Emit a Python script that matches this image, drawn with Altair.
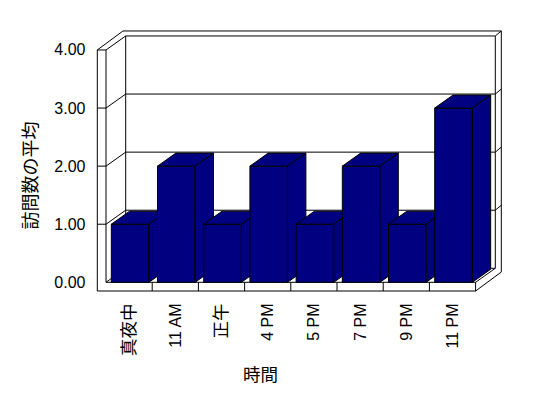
import json
import altair as alt
import pandas as pd

# ---------------- data ----------------
categories = ["真夜中", "11 AM", "正午", "4 PM", "5 PM", "7 PM", "9 PM", "11 PM"]
values = [1, 2, 1, 2, 1, 2, 1, 3]
y_ticks = [0, 1, 2, 3, 4]
x_title = "時間"
y_title = "訪問数の平均"

# ---------------- geometry of the pseudo-3D frame (pixels) ----------------
CW = 46.2      # px per category
UV = 58.08     # px per value unit
X0 = 106.0     # px of left edge of first category (front)
Y0 = 282.3     # px of value 0 (front)
L, T, W, H = 97, 28, 406, 267
OFF = [(0.0, 0.0), (19.7, 14.0), (25.7, 19.0)]  # depth: front, back-wall inner, back-wall outer
BAR_D = 0.93
BAR_L, BAR_R = 0.115, 0.93
WALL_T = 8.7 / CW
FLOOR_T = 8.7 / UV

N = len(categories)
TOP = max(y_ticks)


def u_of(px):
    return (px - X0) / CW


def v_of(py):
    return (Y0 - py) / UV


def P(u, v, k):
    return (u + OFF[k][0] / CW, v + OFF[k][1] / UV)


xdom = [u_of(L), u_of(L + W)]
ydom = [v_of(T + H), v_of(T)]

# ---------------- frame lines ----------------
segs = []


def seg(a, b):
    segs.append({"x": a[0], "y": a[1], "x2": b[0], "y2": b[1]})


t, f = WALL_T, FLOOR_T
seg(P(-t, -f, 0), P(-t, TOP, 0))
seg(P(-t, TOP, 0), P(0, TOP, 0))
seg(P(0, 0, 0), P(0, TOP, 0))
seg(P(0, 0, 0), P(N, 0, 0))
seg(P(-t, -f, 0), P(N, -f, 0))
seg(P(N, -f, 0), P(N, 0, 0))
seg(P(-t, TOP, 0), P(-t, TOP, 2))
seg(P(0, TOP, 0), P(0, TOP, 1))
seg(P(0, TOP, 1), P(N, TOP, 1))
seg(P(-t, TOP, 2), P(N, TOP, 2))
seg(P(N, TOP, 1), P(N, TOP, 2))
seg(P(N, 0, 1), P(N, TOP, 1))
seg(P(N, -f, 2), P(N, TOP, 2))
seg(P(N, 0, 0), P(N, 0, 1))
seg(P(N, -f, 0), P(N, -f, 2))
seg(P(0, 0, 1), P(0, TOP, 1))
seg(P(0, 0, 1), P(N, 0, 1))
seg(P(0, 0, 0), P(0, 0, 1))
for k in y_ticks[1:-1]:
    seg(P(0, k, 1), P(N, k, 1))
    seg(P(0, k, 0), P(0, k, 1))
    seg(P(-t, k, 0), P(0, k, 0))
    seg(P(N, k, 1), P(N, k, 2))
for i in range(1, N):
    seg(P(i, -f, 0), P(i, 0, 0))
frame_df = pd.DataFrame(segs)

# ---------------- encodings ----------------
lab_font = "Liberation Sans, Noto Sans CJK JP"
cjk_font = "Noto Sans CJK JP"
label_js = json.dumps(categories, ensure_ascii=False)
cjk_idx = [i for i, c in enumerate(categories) if any(ord(ch) > 127 for ch in c)]

xaxis = alt.Axis(
    title=x_title, values=[i + 0.5 for i in range(N)],
    labelExpr=f"{label_js}[floor(datum.value)]",
    labelAngle=270, labelAlign="right", labelBaseline="middle", labelPadding=8,
    ticks=False, domain=False, grid=False, labelOverlap=False, labelFlush=False,
    labelBound=False, labelFont=lab_font,
    labelFontSize={"condition": {"test": f"indexof({json.dumps(cjk_idx)}, floor(datum.value)) >= 0",
                                 "value": 17.5}, "value": 16},
    labelColor="black",
    titleFont=cjk_font, titleFontSize=17.5, titleFontWeight="normal", titleColor="black",
    titleX=163, titleY=80.5, titleAlign="center", titleBaseline="middle",
)
yaxis = alt.Axis(
    title=y_title, values=y_ticks, format=".2f",
    ticks=False, domain=False, grid=False, labelPadding=12, labelOverlap=False,
    labelFlush=False, labelBound=False,
    labelFont=lab_font, labelFontSize=16, labelColor="black",
    titleFont=cjk_font, titleFontSize=18, titleFontWeight="normal", titleColor="black",
    titleX=-66, titleY=147, titleAngle=270, titleAlign="center", titleBaseline="middle",
)
xs = alt.Scale(domain=xdom, nice=False, zero=False)
ys = alt.Scale(domain=ydom, nice=False, zero=False)


def X():
    return alt.X("x:Q", scale=xs, axis=xaxis)


def Y():
    return alt.Y("y:Q", scale=ys, axis=yaxis, stack=False)


frame = alt.Chart(frame_df).mark_rule(color="black", strokeWidth=1).encode(
    x=X(), y=Y(), x2=alt.X2("x2:Q"), y2=alt.Y2("y2:Q")
)

# ---------------- bars (front, top, side faces) ----------------
ab = BAR_D * OFF[1][0] / CW
bb = BAR_D * OFF[1][1] / UV
layers = [frame]
for i, v in enumerate(values):
    x0, x1 = i + BAR_L, i + BAR_R
    rows = []
    for face, pts in [
        ("front", [(x0, 0, v), (x1, 0, v)]),
        ("top", [(x0, v, v), (x0 + ab, v, v + bb), (x1, v, v + bb), (x1 + ab, v + bb, v + bb)]),
        ("side", [(x1, 0, v), (x1 + ab, bb, v + bb)]),
    ]:
        for (px, lo, hi) in pts:
            rows.append({"face": face, "cat": categories[i], "x": px, "y": lo, "y2": hi})
    bar = alt.Chart(pd.DataFrame(rows)).mark_area(
        fill="#000080", fillOpacity=1, stroke="black", strokeWidth=1, interpolate="linear"
    ).encode(x=X(), y=Y(), y2=alt.Y2("y2:Q"), detail="face:N")
    layers.append(bar)

chart = alt.layer(*layers).properties(
    width=W, height=H,
    padding={"left": L, "top": T, "right": 548 - L - W, "bottom": 398 - T - H},
    autosize=alt.AutoSizeParams(type="none"),
    background="white",
).configure_view(strokeWidth=0)

chart.save("out.html", embed_options={"renderer": "svg", "actions": False})
